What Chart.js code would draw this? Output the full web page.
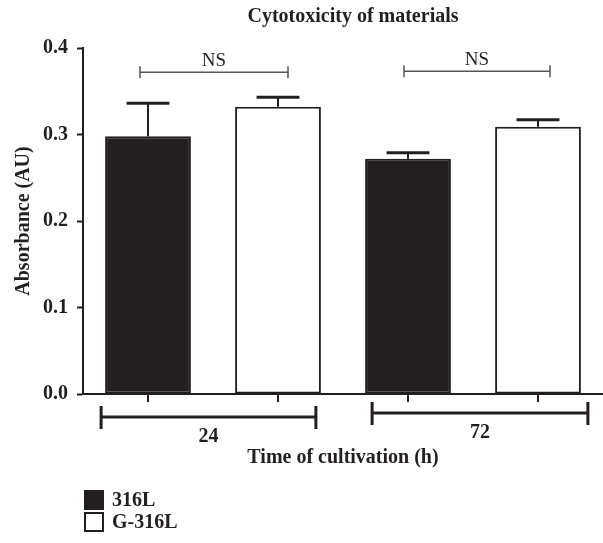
<!DOCTYPE html>
<html>
<head>
<meta charset="utf-8">
<script src="https://cdn.jsdelivr.net/npm/chart.js@4"></script>
<style>
  html, body { margin: 0; padding: 0; background: #ffffff; }
  #wrap { width: 603px; height: 543px; position: relative; }
</style>
</head>
<body>
<div id="wrap"><canvas id="c" width="603" height="543"></canvas></div>
<script>
// ---- data ----
const chartTitle = 'Cytotoxicity of materials';
const groups = ['24', '72'];
const seriesNames = ['316L', 'G-316L'];
const mean316L = [0.298, 0.272];
const meanG316L = [0.332, 0.309];
const err316L = [0.038, 0.007];
const errG316L = [0.011, 0.008];
const yTickLabels = ['0.0', '0.1', '0.2', '0.3', '0.4'];
const sigLabels = ['NS', 'NS'];
const sigLevels = [0.372, 0.373];
const yTitle = 'Absorbance (AU)';
const xTitle = 'Time of cultivation (h)';

const INK = '#231f20';
const SERIF = '"Liberation Serif", "DejaVu Serif", serif';

const overlay = {
  id: 'overlay',
  afterDatasetsDraw(chart) {
    const ctx = chart.ctx;
    const ca = chart.chartArea;
    const yS = chart.scales.y;
    const errs = [err316L, errG316L];
    const metas = [chart.getDatasetMeta(0), chart.getDatasetMeta(1)];
    ctx.save();
    // error bars
    metas.forEach((meta, di) => {
      meta.data.forEach((bar, i) => {
        const v = chart.data.datasets[di].data[i];
        const yTop = yS.getPixelForValue(v + errs[di][i]);
        const half = bar.width / 4;
        ctx.strokeStyle = INK;
        ctx.lineWidth = 2;
        ctx.beginPath();
        ctx.moveTo(bar.x, bar.y);
        ctx.lineTo(bar.x, yTop);
        ctx.stroke();
        ctx.lineWidth = 3;
        ctx.beginPath();
        ctx.moveTo(bar.x - half, yTop);
        ctx.lineTo(bar.x + half, yTop);
        ctx.stroke();
      });
    });
    // x tick marks at bar centres
    ctx.strokeStyle = INK;
    ctx.lineWidth = 2;
    metas.forEach(meta => meta.data.forEach(bar => {
      ctx.beginPath();
      ctx.moveTo(bar.x, ca.bottom);
      ctx.lineTo(bar.x, ca.bottom + 8);
      ctx.stroke();
    }));
    // significance brackets
    groups.forEach((g, i) => {
      const a = metas[0].data[i], b = metas[1].data[i];
      const x1 = a.x - (i === 0 ? 8 : 4);
      const x2 = b.x + (i === 0 ? 10 : 12);
      const y = yS.getPixelForValue(sigLevels[i]);
      ctx.strokeStyle = '#555555';
      ctx.lineWidth = 1.5;
      ctx.beginPath();
      ctx.moveTo(x1, y); ctx.lineTo(x2, y);
      ctx.moveTo(x1, y - 6); ctx.lineTo(x1, y + 6);
      ctx.moveTo(x2, y - 6); ctx.lineTo(x2, y + 6);
      ctx.stroke();
      ctx.fillStyle = INK;
      ctx.font = '19px ' + SERIF;
      ctx.textAlign = 'center';
      ctx.textBaseline = 'middle';
      ctx.fillText(sigLabels[i], (x1 + x2) / 2, y - 11);
    });
    // group brackets under the axis
    groups.forEach((g, i) => {
      const a = metas[0].data[i], b = metas[1].data[i];
      const shift = i === 0 ? -4 : 7;
      const x1 = a.x - a.width / 2 + shift;
      const x2 = b.x + b.width / 2 + (i === 0 ? -5 : 7);
      const y = ca.bottom + (i === 0 ? 23 : 19);
      ctx.strokeStyle = INK;
      ctx.lineWidth = 3;
      ctx.beginPath();
      ctx.moveTo(x1, y); ctx.lineTo(x2, y);
      ctx.moveTo(x1, y - 11); ctx.lineTo(x1, y + 12);
      ctx.moveTo(x2, y - 11); ctx.lineTo(x2, y + 12);
      ctx.stroke();
      ctx.fillStyle = INK;
      ctx.font = 'bold 20px ' + SERIF;
      ctx.textAlign = 'center';
      ctx.textBaseline = 'middle';
      ctx.fillText(g, (x1 + x2) / 2, y + 20);
    });
    ctx.restore();
  },
  afterDraw(chart) {
    const ctx = chart.ctx;
    const ca = chart.chartArea;
    ctx.save();
    // title
    ctx.fillStyle = INK;
    ctx.font = 'bold 20px ' + SERIF;
    ctx.textAlign = 'center';
    ctx.textBaseline = 'middle';
    ctx.fillText(chartTitle, (ca.left + ca.right) / 2 + 10, 17);
    // legend
    const ds = chart.data.datasets;
    ds.forEach((d, i) => {
      const y = ca.bottom + 106 + i * 22;
      ctx.fillStyle = d.backgroundColor;
      ctx.strokeStyle = INK;
      ctx.lineWidth = 2;
      ctx.beginPath();
      ctx.rect(85, y - 9, 18, 18);
      ctx.fill();
      ctx.stroke();
      ctx.fillStyle = INK;
      ctx.font = 'bold 20px ' + SERIF;
      ctx.textAlign = 'left';
      ctx.textBaseline = 'middle';
      ctx.fillText(d.label, 112, y + 1);
    });
    ctx.restore();
  }
};

new Chart(document.getElementById('c'), {
  type: 'bar',
  data: {
    labels: groups,
    datasets: [
      { label: seriesNames[0], data: mean316L, backgroundColor: INK, borderColor: INK, borderWidth: 2 },
      { label: seriesNames[1], data: meanG316L, backgroundColor: '#ffffff', borderColor: INK, borderWidth: 2 }
    ]
  },
  options: {
    responsive: false,
    animation: false,
    devicePixelRatio: 1,
    layout: { padding: { top: 48, right: 0, bottom: 71, left: 0 } },
    plugins: {
      legend: { display: false },
      title: { display: false },
      tooltip: { enabled: false }
    },
    datasets: { bar: { categoryPercentage: 1.0, barPercentage: 0.66, borderSkipped: false } },
    scales: {
      x: {
        type: 'category',
        offset: true,
        grid: { display: false },
        border: { display: true, color: INK, width: 2 },
        ticks: { display: false },
        title: {
          display: true, text: xTitle, color: INK,
          font: { family: SERIF, size: 20, weight: 'bold' },
          padding: { top: 0, bottom: 2 }
        },
        afterFit(s) { s.height = 78; }
      },
      y: {
        min: 0, max: 0.4,
        border: { display: true, color: INK, width: 2 },
        grid: { display: true, drawOnChartArea: false, drawTicks: true, tickLength: 6, tickWidth: 2, tickColor: INK },
        ticks: {
          stepSize: 0.1, padding: 9, color: INK,
          font: { family: SERIF, size: 20, weight: 'bold' },
          callback: (v, i) => yTickLabels[i]
        },
        title: {
          display: true, text: yTitle, color: INK,
          font: { family: SERIF, size: 20, weight: 'bold' },
          padding: { top: 12, bottom: 0 }
        },
        afterFit(s) { s.width = 83; }
      }
    }
  },
  plugins: [overlay]
});
</script>
</body>
</html>
